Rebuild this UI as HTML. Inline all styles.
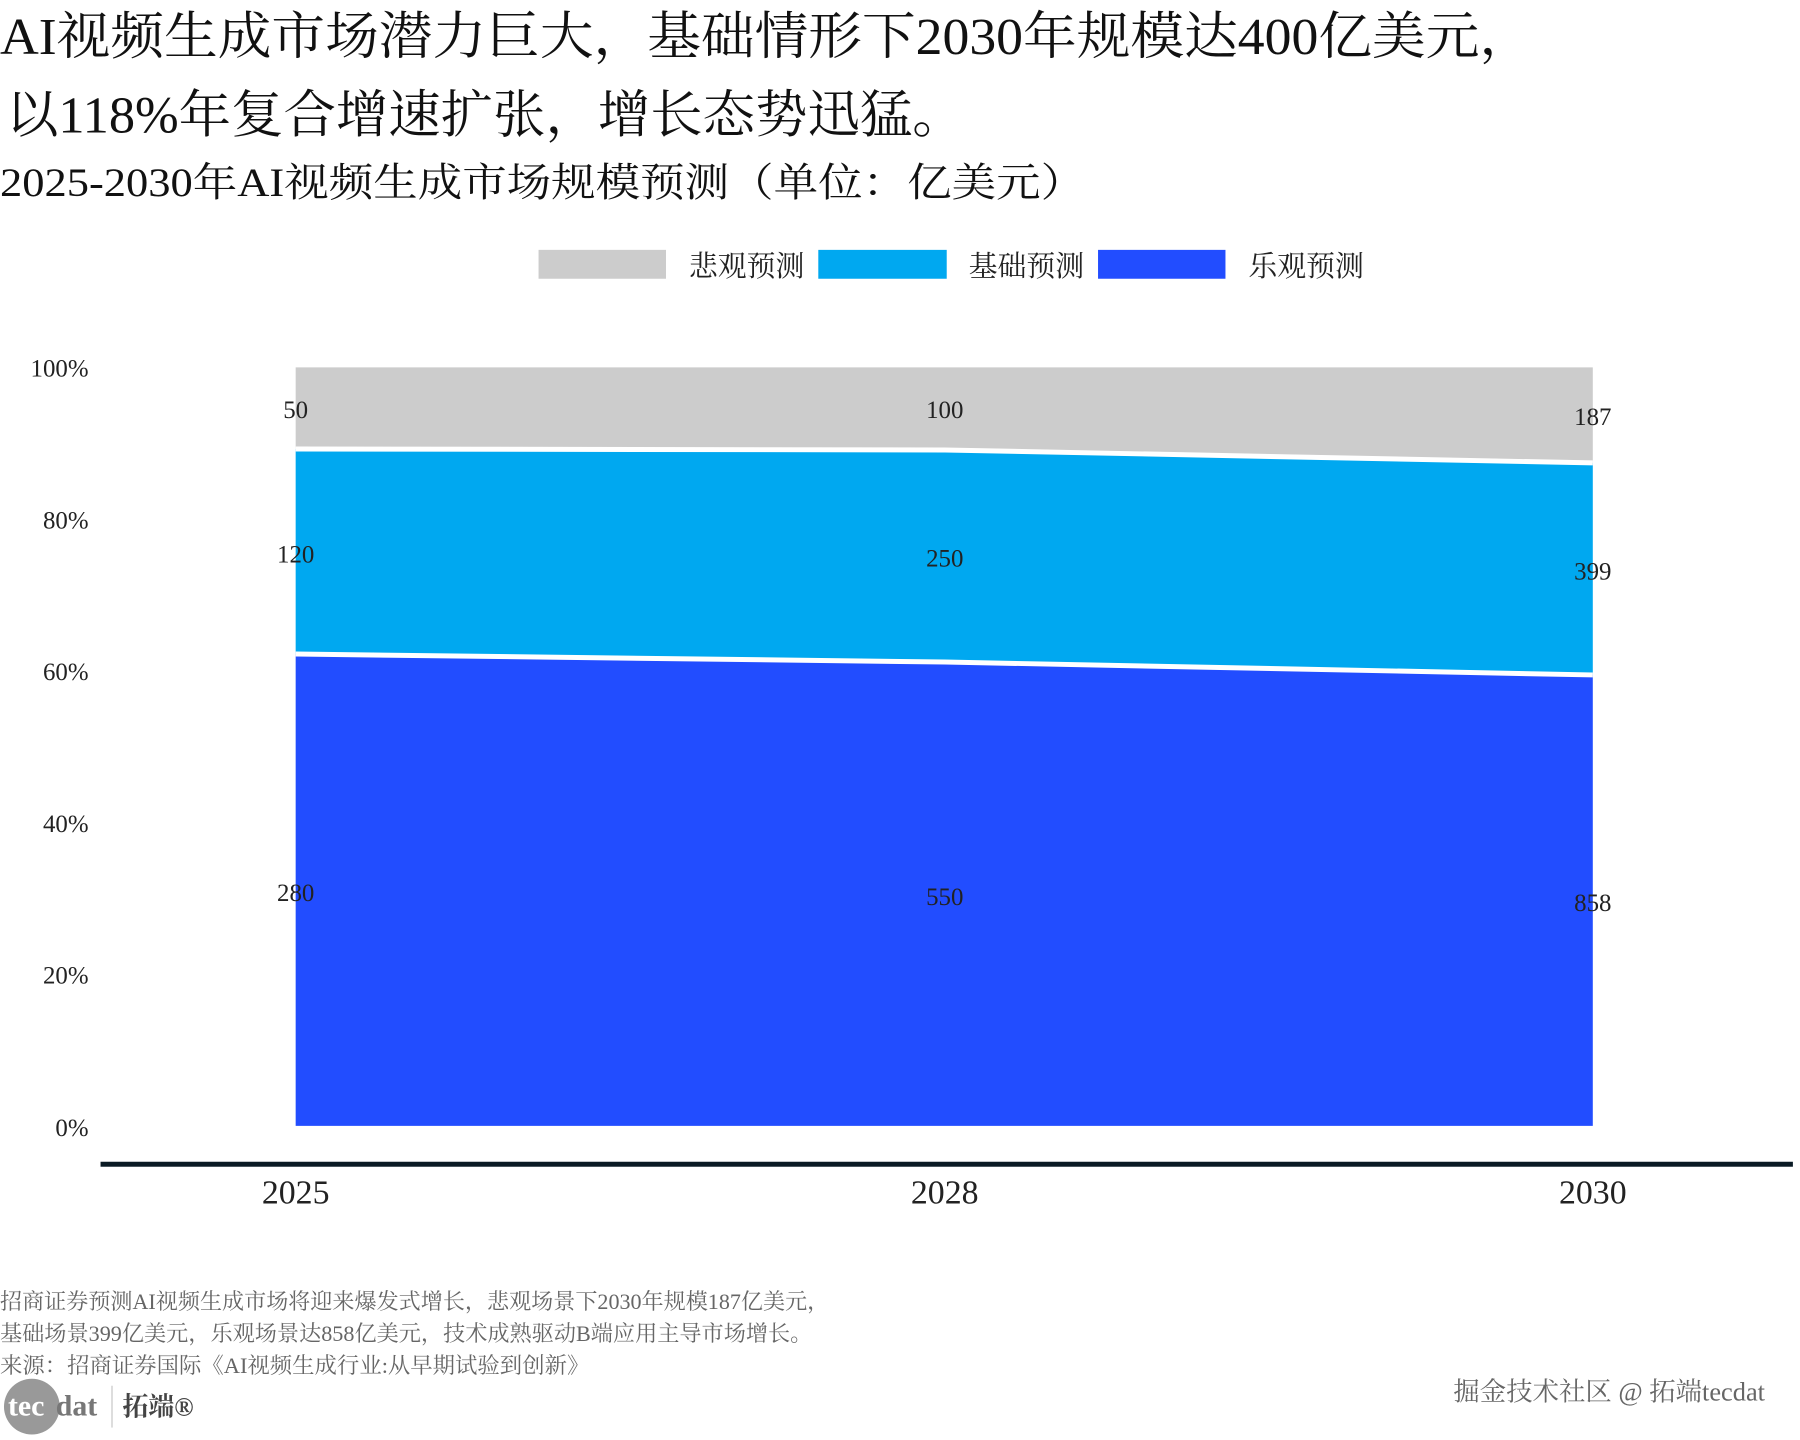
<!DOCTYPE html>
<html><head><meta charset="utf-8"><style>
html,body{margin:0;padding:0;background:#fff;}
svg{display:block;}
text{font-family:"Liberation Serif","Noto Serif CJK SC",serif;}
</style></head><body>
<svg width="1800" height="1440" viewBox="0 0 1800 1440" xmlns="http://www.w3.org/2000/svg">
<rect width="1800" height="1440" fill="#fff"/>
<g transform="scale(0.9955)">
<text x="0" y="54" font-size="52" fill="#111" textLength="1540" lengthAdjust="spacingAndGlyphs">AI视频生成市场潜力巨大，基础情形下2030年规模达400亿美元，</text>
<text x="6" y="133" font-size="52" fill="#111" textLength="963" lengthAdjust="spacingAndGlyphs">以118%年复合增速扩张，增长态势迅猛。</text>
<text x="0" y="197" font-size="40" fill="#111" textLength="1090" lengthAdjust="spacingAndGlyphs">2025-2030年AI视频生成市场规模预测（单位：亿美元）</text>

<rect x="541" y="251" width="128" height="29" fill="#cccccc"/>
<text x="692" y="277" font-size="29" fill="#222" textLength="116" lengthAdjust="spacingAndGlyphs">悲观预测</text>
<rect x="822" y="251" width="129" height="29" fill="#00a8f0"/>
<text x="973" y="277" font-size="29" fill="#222" textLength="116" lengthAdjust="spacingAndGlyphs">基础预测</text>
<rect x="1103" y="251" width="128" height="29" fill="#224dff"/>
<text x="1254" y="277" font-size="29" fill="#222" textLength="116" lengthAdjust="spacingAndGlyphs">乐观预测</text>

<polygon points="297,369 949,369 1600,369 1600,465 949,452 297,451" fill="#cccccc"/>
<polygon points="297,451 949,452 1600,465 1600,678 949,665 297,657" fill="#00a8f0"/>
<polygon points="297,657 949,665 1600,678 1600,1131 297,1131" fill="#224dff"/>
<polyline points="297,451 949,452 1600,465" fill="none" stroke="#fff" stroke-width="5"/>
<polyline points="297,657 949,665 1600,678" fill="none" stroke="#fff" stroke-width="5"/>

<g font-size="25" fill="#222" text-anchor="end">
<text x="89" y="378">100%</text>
<text x="89" y="531">80%</text>
<text x="89" y="683">60%</text>
<text x="89" y="836">40%</text>
<text x="89" y="988">20%</text>
<text x="89" y="1141">0%</text>
</g>
<g font-size="25" fill="#222" text-anchor="middle">
<text x="297" y="420">50</text>
<text x="949" y="420">100</text>
<text x="1600" y="427">187</text>
<text x="297" y="565">120</text>
<text x="949" y="569">250</text>
<text x="1600" y="582">399</text>
<text x="297" y="905">280</text>
<text x="949" y="909">550</text>
<text x="1600" y="915">858</text>
</g>
<rect x="101" y="1167" width="1700" height="5" fill="#0a1a24"/>
<g font-size="34" fill="#222" text-anchor="middle">
<text x="297" y="1209">2025</text>
<text x="949" y="1209">2028</text>
<text x="1600" y="1209">2030</text>
</g>
<g font-size="22" fill="#666">
<text x="0" y="1315" textLength="833" lengthAdjust="spacingAndGlyphs">招商证券预测AI视频生成市场将迎来爆发式增长，悲观场景下2030年规模187亿美元，</text>
<text x="0" y="1347" textLength="816" lengthAdjust="spacingAndGlyphs">基础场景399亿美元，乐观场景达858亿美元，技术成熟驱动B端应用主导市场增长。</text>
<text x="0" y="1379" textLength="592" lengthAdjust="spacingAndGlyphs">来源：招商证券国际《AI视频生成行业:从早期试验到创新》</text>
</g>
<circle cx="32" cy="1413" r="28" fill="#999"/>
<text x="8" y="1422" font-size="30" fill="#fff" font-family="Liberation Sans,sans-serif" font-weight="bold">tec</text>
<text x="56" y="1422" font-size="30" fill="#777" font-family="Liberation Sans,sans-serif" font-weight="bold">dat</text>
<rect x="112" y="1392" width="1" height="42" fill="#bbb"/>
<text x="123" y="1422" font-size="26" fill="#444" font-weight="bold">拓端®</text>
<text x="1460" y="1407" font-size="26" fill="#666" textLength="313" lengthAdjust="spacingAndGlyphs">掘金技术社区 @ 拓端tecdat</text>
</g>
</svg>
</body></html>
